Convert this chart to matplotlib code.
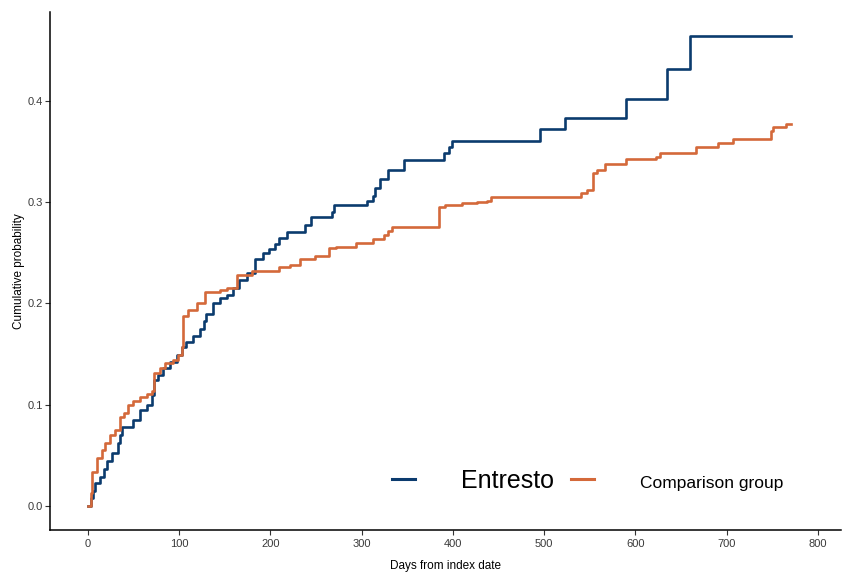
import matplotlib
matplotlib.use('Agg')
import matplotlib.pyplot as plt
from matplotlib.lines import Line2D

# Step points (day of event, cumulative probability after it)
entresto_days = [0, 3, 5.5, 7.7, 13, 17.5, 21, 26, 33, 35, 37, 49, 57, 65, 70, 73, 77, 82, 90,
                 97.5, 103, 108, 115, 123, 127, 130, 137, 145, 152, 159, 166, 174, 183, 192, 199,
                 205, 210, 218, 238, 245, 268, 270, 306, 312, 315, 320, 329, 346, 390, 396, 399,
                 496, 523, 590, 635, 660, 771]
entresto_prob = [0.0, 0.008, 0.015, 0.023, 0.029, 0.037, 0.045, 0.052, 0.062, 0.070, 0.078, 0.085,
                 0.095, 0.100, 0.110, 0.124, 0.129, 0.136, 0.142, 0.149, 0.157, 0.162, 0.168, 0.175,
                 0.183, 0.190, 0.200, 0.205, 0.208, 0.215, 0.223, 0.230, 0.244, 0.250, 0.254, 0.259,
                 0.264, 0.270, 0.277, 0.285, 0.290, 0.297, 0.301, 0.306, 0.314, 0.323, 0.332, 0.341,
                 0.348, 0.354, 0.360, 0.372, 0.383, 0.402, 0.431, 0.464, 0.464]

comparison_days = [0, 3, 5, 10, 15, 19, 24, 30, 35, 40, 44, 49, 57, 65, 70, 72, 79, 84, 93, 99,
                   103, 104, 110, 120, 128, 145, 153, 163, 180, 209, 222, 233, 249, 264, 272, 294,
                   312, 325, 329, 333, 385, 391, 410, 426, 438, 442, 541, 547, 554, 558, 567, 590,
                   623, 627, 667, 691, 707, 749, 751, 765, 771]
comparison_prob = [0.0, 0.013, 0.034, 0.048, 0.055, 0.062, 0.070, 0.075, 0.088, 0.092, 0.100, 0.104,
                   0.108, 0.111, 0.114, 0.131, 0.136, 0.141, 0.144, 0.149, 0.157, 0.188, 0.193, 0.200,
                   0.211, 0.213, 0.215, 0.228, 0.232, 0.236, 0.238, 0.244, 0.247, 0.255, 0.256, 0.260,
                   0.263, 0.267, 0.271, 0.275, 0.295, 0.297, 0.299, 0.300, 0.301, 0.305, 0.309, 0.312,
                   0.329, 0.332, 0.337, 0.342, 0.344, 0.348, 0.354, 0.358, 0.362, 0.370, 0.374, 0.377,
                   0.377]

group_names = ['Entresto', 'Comparison group']
group_colors = ['#0b3b6e', '#d4693a']

x_ticks = [0, 100, 200, 300, 400, 500, 600, 700, 800]
y_ticks = [0.0, 0.1, 0.2, 0.3, 0.4]

plt.rcParams['font.family'] = ['Liberation Sans', 'DejaVu Sans']

fig = plt.figure(figsize=(8.42, 5.72), dpi=100)
ax = fig.add_axes([0.0594, 0.0734, 0.94, 0.905])

ax.step(entresto_days, entresto_prob, where='post', color=group_colors[0], linewidth=1.9)
ax.step(comparison_days, comparison_prob, where='post', color=group_colors[1], linewidth=1.9)

ax.set_xlim(-41.5, 826)
ax.set_ylim(-0.0235, 0.487)
ax.set_xticks(x_ticks)
ax.set_yticks(y_ticks)
ax.set_xticklabels([str(t) for t in x_ticks])
ax.set_yticklabels([f'{t:.1f}' for t in y_ticks])
ax.tick_params(direction='out', length=3.5, width=0.8, color='#333333',
               labelsize=8, labelcolor='#3a3a3a', pad=3)
ax.tick_params(axis='y', pad=1.5)

for side in ['top', 'right']:
    ax.spines[side].set_visible(False)
for side in ['left', 'bottom']:
    ax.spines[side].set_linewidth(1.1)
    ax.spines[side].set_color('black')

ax.set_xlabel('Days from index date', fontsize=8.5, labelpad=8)
ax.set_ylabel('Cumulative probability', fontsize=8.5, labelpad=2)

handles = [Line2D([], [], color=c, linewidth=2.2) for c in group_colors]
leg = fig.legend(handles, group_names, loc='center left',
                 bbox_to_anchor=(392 / 842, 1 - 481 / 572), ncol=2, frameon=False,
                 fontsize=18, handlelength=0.9, handletextpad=1.85, columnspacing=0.7,
                 borderpad=0, borderaxespad=0)
leg_texts = leg.get_texts()
leg_texts[1].set_fontsize(12.5)

fig.savefig('out.png', dpi=100)
